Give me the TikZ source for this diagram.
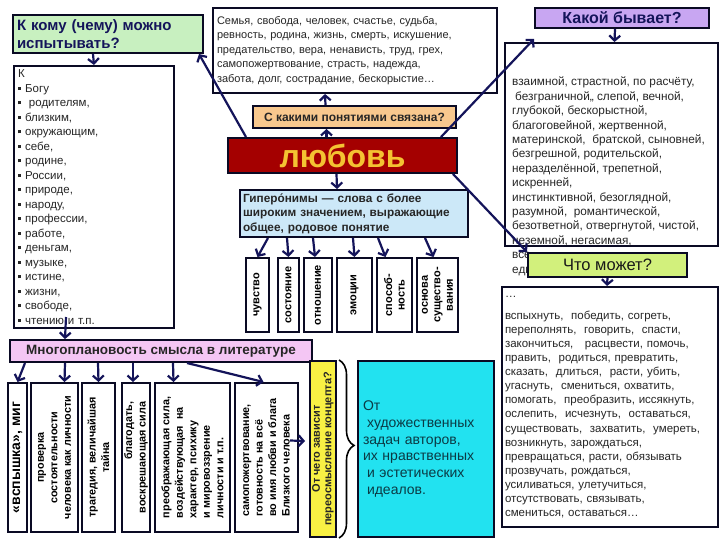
\documentclass[tikz,border=0pt]{standalone}
\usepackage{fontspec}
\setmainfont{Liberation Sans}
\usetikzlibrary{arrows.meta,decorations.pathreplacing}

\definecolor{frame}{HTML}{0A0A24}
\definecolor{arrcol}{HTML}{14145A}
\definecolor{askgreen}{HTML}{C8F0C0}
\definecolor{asklilac}{HTML}{C8A6F2}
\definecolor{asktan}{HTML}{F8C88E}
\definecolor{lovered}{HTML}{A40000}
\definecolor{lovegold}{HTML}{F4C232}
\definecolor{hypblue}{HTML}{CCE8F8}
\definecolor{litpink}{HTML}{F4C6F4}
\definecolor{askyellow}{HTML}{F8F044}
\definecolor{ansteal}{HTML}{22E2F0}
\definecolor{anstext}{HTML}{0B3A44}
\definecolor{canlime}{HTML}{D2F07C}

\newcommand{\lbul}{\rule[0.2em]{0.27em}{0.27em}\hspace{0.35em}}
\newcommand{\setfs}[2]{\fontsize{#1}{#2}\selectfont}

\begin{document}
\begin{tikzpicture}[x=1pt,y=-1pt]
    \tikzstyle{box}=[draw=frame,line width=2pt,inner sep=2pt]
    \tikzstyle{arr}=[draw=arrcol,line width=2.2pt,-{Straight Barb[length=5pt,width=11pt]}]
    \tikzstyle{words}=[align=left,text=black!85]
    \tikzstyle{kindof}=[box,rotate=90,minimum width=74pt,inner sep=1pt,align=center,font=\bfseries\setfs{11}{12.5}]
    \tikzstyle{sense}=[box,rotate=90,minimum width=149pt,inner sep=1pt,font=\bfseries\setfs{10.8}{13.5}]

    \useasboundingbox (0,0) rectangle (720,540);
    \fill[white] (0,0) rectangle (720,540);

    \node[box,fill=askgreen,minimum width=190pt,minimum height=38pt,text width=182pt,align=left,font=\bfseries\setfs{15}{18},text=arrcol] at (108,34) (whom) {К кому (чему) можно\\испытывать?};
    \node[box,anchor=north west,fill=white,minimum width=160pt,minimum height=262pt,text width=152pt,words,font=\setfs{11.5}{14.5}] at (13,65) (objects) {К\\ \lbul Богу\\ \lbul\ родителям,\\ \lbul близким,\\ \lbul окружающим,\\ \lbul себе,\\ \lbul родине,\\ \lbul России,\\ \lbul природе,\\ \lbul народу,\\ \lbul профессии,\\ \lbul работе,\\ \lbul деньгам,\\ \lbul музыке,\\ \lbul истине,\\ \lbul жизни,\\ \lbul свободе,\\ \lbul чтению и т.п.};
    \node[box,fill=white,minimum width=284pt,minimum height=85pt,text width=276pt,words,font=\setfs{11}{14.5}] at (355,50.5) (notions) {Семья, свобода, человек, счастье, судьба,\\ревность, родина, жизнь, смерть, искушение,\\предательство, вера, ненависть, труд, грех,\\самопожертвование, страсть, надежда,\\забота, долг, сострадание, бескорыстие…};

    \node[box,fill=asklilac,minimum width=174pt,minimum height=20pt,inner sep=1pt,font=\bfseries\setfs{16}{18},text=arrcol] at (622,18) (kind) {Какой бывает?};
    \node[box,fill=white,minimum width=213pt,minimum height=203pt] at (611.5,144.5) (kindbox) {};
    \node[words,anchor=north west,inner sep=0pt,font=\setfs{11.8}{14.4}] at (512,77) (kindtext) {взаимной, страстной, по расчёту,\\\hspace*{3pt}безграничной,, слепой, вечной,\\глубокой, бескорыстной,\\благоговейной, жертвенной,\\материнской,\ \ братской, сыновней,\\безгрешной, родительской,\\неразделённой, трепетной,\\искренней,\\инстинктивной, безоглядной,\\разумной,\ \ романтической,\\безответной, отвергнутой, чистой,\\неземной, негасимая,\\все\\еди};

    \node[box,fill=asktan,minimum width=203pt,minimum height=22pt,font=\bfseries\setfs{12}{14},text=black!85] at (354.5,117) (linked) {С какими понятиями связана?};
    \node[box,fill=lovered,minimum width=229pt,minimum height=35pt,inner sep=0pt,font=\bfseries\setfs{32}{34},text=lovegold] at (342.5,155.5) (love) {любовь};
    \node[box,fill=hypblue,minimum width=228pt,minimum height=47pt,text width=222pt,words,font=\bfseries\setfs{11.8}{14.5}] at (354,213.5) (hyper) {Гиперо́нимы — слова с более\\широким значением, выражающие\\общее, родовое понятие};

    \node[kindof,minimum height=23pt] at (257.5,295) (feel) {чувство};
    \node[kindof,minimum height=21pt] at (288.5,295) (state) {состояние};
    \node[kindof,minimum height=28pt] at (318,295) (relation) {отношение};
    \node[kindof,minimum height=35pt] at (354.5,295) (emotion) {эмоции};
    \node[kindof,minimum height=35pt] at (394.5,295) (ability) {способ-\\ность};
    \node[kindof,minimum height=41pt] at (437.5,295) (basis) {основа\\существо-\\вания};

    \node[box,fill=litpink,minimum width=302pt,minimum height=22pt,font=\bfseries\setfs{13.5}{15},text=black!85] at (161,351) (layers) {Многоплановость смысла в литературе};

    \node[sense,minimum height=19pt,font=\bfseries\setfs{14}{15}] at (17.5,457.5) (flash) {«вспышка», миг};
    \node[sense,minimum height=47pt,align=center] at (54.5,457.5) (test) {проверка\\состоятельности\\человека как личности};
    \node[sense,minimum height=33pt,align=center] at (98.5,457.5) (tragedy) {трагедия, величайшая\\тайна};
    \node[sense,minimum height=28pt,align=right] at (136,457.5) (grace) {благодать,\\воскрешающая сила};
    \node[sense,minimum height=75pt,align=left] at (192.5,457.5) (power) {преображающая сила,\\воздействующая\ \ на\\характер, психику\\и мировоззрение\\личности и т.п.};
    \node[sense,minimum height=63pt,align=left] at (266.5,457.5) (sacrifice) {самопожертвование,\\готовность на всё\\во имя любви и блага\\Близкого человека};

    \node[box,fill=askyellow,rotate=90,minimum width=176pt,minimum height=26pt,inner sep=1pt,align=center,font=\bfseries\setfs{11}{11.5},text=black!85] at (323,449) (depends) {От чего зависит\\переосмысление концепта?};
    \node[box,fill=ansteal,minimum width=136pt,minimum height=176pt,text width=126pt,words,font=\setfs{14}{16.8},text=anstext] at (426,449) (answer) {От\\\hspace*{4pt}художественных\\задач авторов,\\их нравственных\\\hspace*{4pt}и эстетических\\\hspace*{4pt}идеалов.};
    \draw[decorate,decoration={brace,amplitude=15pt,aspect=0.48},line width=1.6pt] ([xshift=2pt]depends.south east) -- ([xshift=2pt]depends.south west);

    \node[box,fill=canlime,minimum width=159pt,minimum height=24pt,inner sep=1pt,font=\setfs{16.5}{18},text=black!90] at (607.5,265) (can) {Что может?};
    \node[box,fill=white,minimum width=216pt,minimum height=240pt,text width=210pt,words,font=\setfs{11.5}{14.1}] at (610,407) (canbox) {…\\[8pt]вспыхнуть,\ \ победить, согреть,\\переполнять,\ \ говорить,\ \ спасти,\\закончиться,\ \ \ расцвести, помочь,\\править,\ \ родиться, превратить,\\сказать,\ \ длиться,\ \ расти, убить,\\угаснуть,\ \ смениться, охватить,\\помогать,\ \ преобразить, иссякнуть,\\ослепить,\ \ исчезнуть,\ \ оставаться,\\существовать,\ \ захватить,\ \ умереть,\\возникнуть, зарождаться,\\превращаться, расти, обязывать\\прозвучать, рождаться,\\усиливаться, улетучиться,\\отсутствовать, связывать,\\смениться, оставаться…};

    \draw[arr] ([xshift=-15pt]whom.south) -- (objects.north);
    \draw[arr] ([xshift=19pt]love.north west) -- ([xshift=-5pt]whom.south east);
    \draw[arr] ([xshift=-16pt]love.north) -- ([xshift=-28pt]linked.south);
    \draw[arr] ([xshift=-29pt]linked.north) -- ([xshift=-30pt]notions.south);
    \draw[arr] ([xshift=-17pt]love.north east) -- ([yshift=-10pt]kind.south west);
    \draw[arr] ([xshift=-7pt]kind.south) -- ([xshift=3pt]kindbox.north);
    \draw[arr] ([xshift=-5pt]love.south east) -- (can.north west);
    \draw[arr] (can.south) -- ([xshift=-3pt]canbox.north);
    \draw[arr] ([xshift=-6pt]love.south) -- ([xshift=-17pt]hyper.north);

    \draw[arr] ([xshift=-86pt]hyper.south) -- (feel.east);
    \draw[arr] ([xshift=-67pt]hyper.south) -- (state.east);
    \draw[arr] ([xshift=-41pt]hyper.south) -- ([xshift=-3pt]relation.east);
    \draw[arr] ([xshift=-1pt]hyper.south) -- (emotion.east);
    \draw[arr] ([xshift=24pt]hyper.south) -- ([xshift=-9pt]ability.east);
    \draw[arr] ([xshift=71pt]hyper.south) -- ([xshift=-4pt]basis.east);

    \draw[arr] ([xshift=-28pt,yshift=12pt]objects.south) -- ([xshift=-96pt]layers.north);
    \draw[arr] ([xshift=-136pt]layers.south) -- (flash.east);
    \draw[arr] ([xshift=-96pt]layers.south) -- ([xshift=10pt]test.east);
    \draw[arr] ([xshift=-63pt]layers.south) -- (tragedy.east);
    \draw[arr] ([xshift=-28pt]layers.south) -- ([xshift=-3pt]grace.east);
    \draw[arr] ([xshift=12pt]layers.south) -- ([xshift=-19pt]power.east);
    \draw[arr] ([xshift=26pt]layers.south) -- ([xshift=-3pt]sacrifice.east);
    \draw[arr] ([xshift=-9pt,yshift=17pt]sacrifice.south) -- ([xshift=-4pt,yshift=8pt]depends.north);
\end{tikzpicture}
\end{document}
